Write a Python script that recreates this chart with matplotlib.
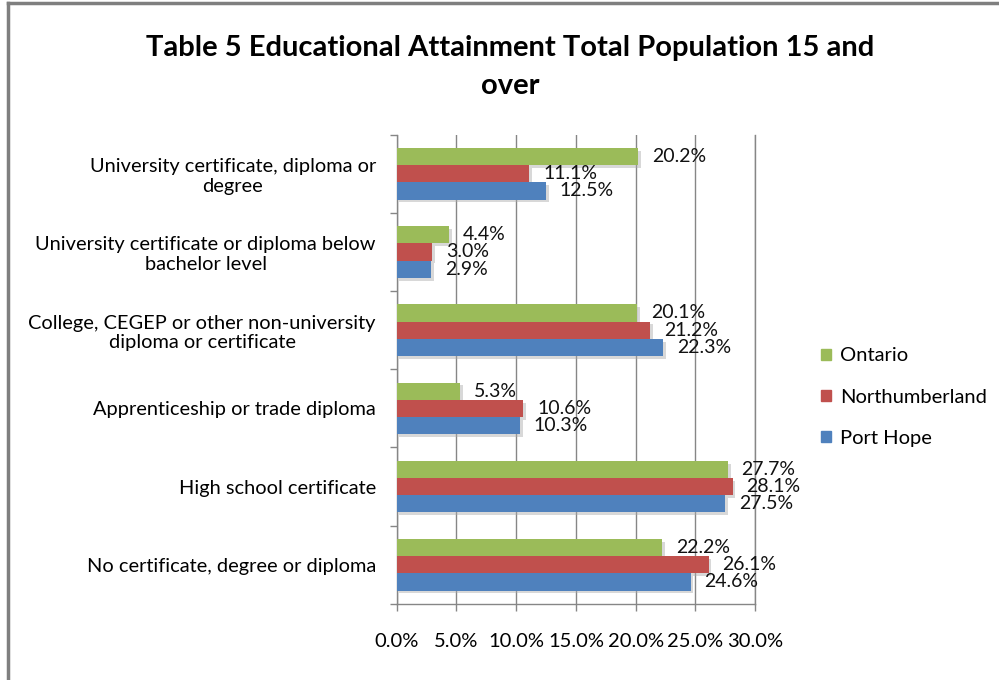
import matplotlib
matplotlib.use("Agg")
import matplotlib.pyplot as plt
import matplotlib.patheffects as pe
from matplotlib.lines import Line2D
import numpy as np

# data (top category first as in the picture)
categories = [
    "University certificate, diploma or\ndegree",
    "University certificate or diploma below\nbachelor level",
    "College, CEGEP or other non-university\ndiploma or certificate",
    "Apprenticeship or trade diploma",
    "High school certificate",
    "No certificate, degree or diploma",
]
series = ["Ontario", "Northumberland", "Port Hope"]
ontario = [20.2, 4.4, 20.1, 5.3, 27.7, 22.2]
northumberland = [11.1, 3.0, 21.2, 10.6, 28.1, 26.1]
port_hope = [12.5, 2.9, 22.3, 10.3, 27.5, 24.6]
xticks = [0, 5, 10, 15, 20, 25, 30]

colors = ["#9BBB59", "#C0504D", "#4F81BD"]
values = [ontario, northumberland, port_hope]

plt.rcParams["font.family"] = ["Lato", "DejaVu Sans"]

fig = plt.figure(figsize=(9.99, 6.80), dpi=100)
ax = fig.add_axes([0.397, 0.112, 0.359, 0.690])

n = len(categories)
y = np.arange(n)[::-1]  # first category at top
h = 0.22
offsets = [-h, 0, h]  # green on top, then red, then blue

shadow = [pe.SimplePatchShadow(offset=(2, -2), shadow_rgbFace="#aaaaaa", alpha=0.45), pe.Normal()]
for vals, col, off, name in zip(values, colors, offsets, series):
    pos = y - off
    bars = ax.barh(pos, vals, height=h, color=col, label=name, zorder=3)
    for b in bars:
        b.set_path_effects(shadow)
    for p, v in zip(pos, vals):
        ax.annotate(f"{v:.1f}%", xy=(v, p), xytext=(10, 0), textcoords="offset points",
                    ha="left", va="center", fontsize=14, color="#111111", zorder=4)

ax.set_xlim(0, 30)
ax.set_ylim(-0.5, n - 0.5)
ax.set_xticks(xticks)
ax.set_xticklabels([f"{t:.1f}%" for t in xticks], fontsize=14.5)
ax.tick_params(axis="x", direction="out", length=5, width=1, color="#868686", pad=16)

ax.set_yticks(y)
ax.set_yticklabels(categories, fontsize=14.4, ha="right", multialignment="center")
ax.tick_params(axis="y", length=0, pad=15)
ax.set_yticks(np.arange(-0.5, n, 1), minor=True)
ax.tick_params(axis="y", which="minor", direction="out", length=5, width=1, color="#868686")

ax.grid(axis="x", color="#868686", linewidth=1, zorder=0)
ax.set_axisbelow(True)
ax.spines["top"].set_visible(False)
for s in ["left", "bottom", "right"]:
    ax.spines[s].set_color("#868686")
    ax.spines[s].set_linewidth(1)

handles = [plt.Rectangle((0, 0), 1, 1, color=c) for c in colors]
fig.legend(handles, series, loc="center left", bbox_to_anchor=(0.804, 0.416),
           frameon=False, fontsize=14.5, handlelength=0.5, handleheight=0.5,
           handletextpad=0.45, labelspacing=1.2)

fig.text(0.511, 0.930, "Table 5 Educational Attainment Total Population 15 and",
         ha="center", va="center", fontsize=21, fontweight="bold")
fig.text(0.511, 0.874, "over", ha="center", va="center", fontsize=21, fontweight="bold")

# chart border (left and top visible)
fig.add_artist(Line2D([0.008, 0.008], [0, 0.996], transform=fig.transFigure,
                      color="#7f7f7f", linewidth=2.5))
fig.add_artist(Line2D([0.008, 1], [0.996, 0.996], transform=fig.transFigure,
                      color="#7f7f7f", linewidth=2.5))

fig.savefig("out.png", dpi=100)
